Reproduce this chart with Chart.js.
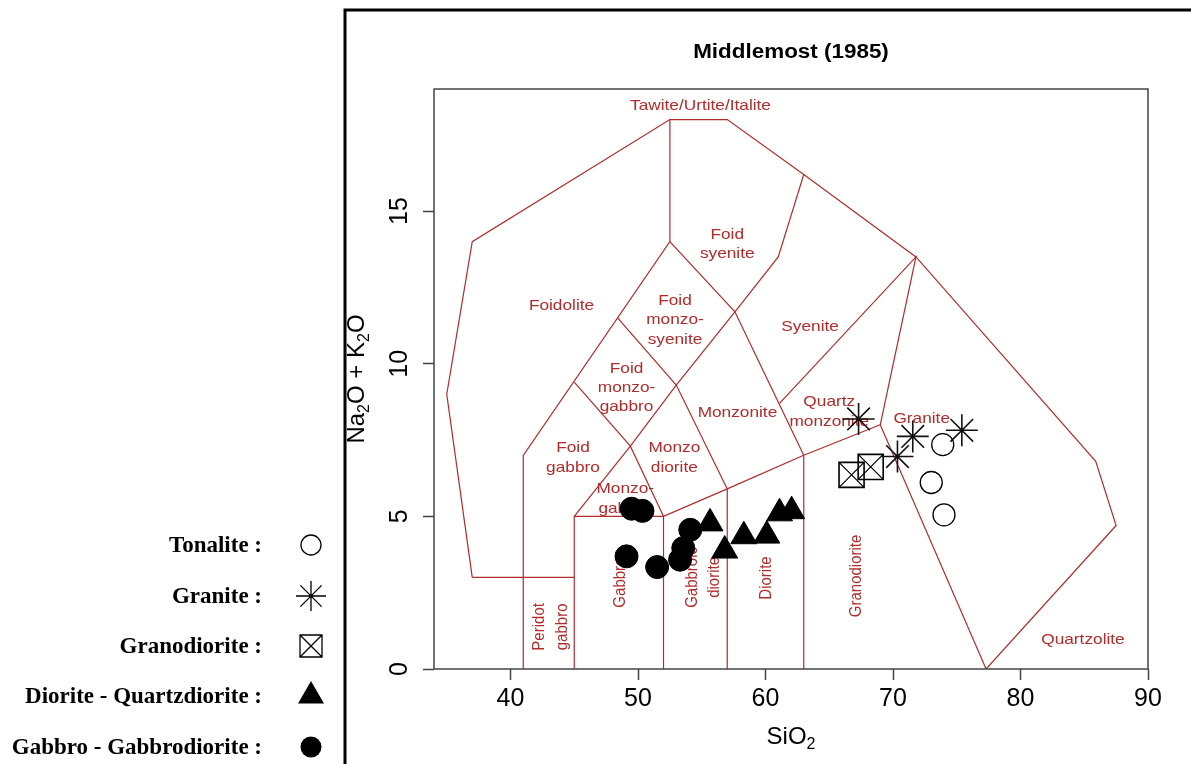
<!DOCTYPE html>
<html>
<head>
<meta charset="utf-8">
<script src="https://cdn.jsdelivr.net/npm/chart.js"></script>
<style>
  html, body { margin: 0; padding: 0; background: #fff; }
  #wrap { width: 1191px; height: 764px; }
</style>
</head>
<body>
<div id="wrap"><canvas id="tas" width="1191" height="764"></canvas></div>
<script>
// Axes
const xTicks = [40, 50, 60, 70, 80, 90];
const yTicks = [0, 5, 10, 15];

// Samples (SiO2, Na2O+K2O)
const tonaliteX = [73.9, 73.0, 74.0];
const tonaliteY = [7.35, 6.11, 5.05];
const graniteX = [67.3, 71.55, 70.35, 75.4];
const graniteY = [8.19, 7.62, 6.96, 7.82];
const granodioriteX = [66.75, 68.25];
const granodioriteY = [6.36, 6.62];
const dioriteX = [55.65, 56.8, 58.3, 60.1, 61.1, 62.05];
const dioriteY = [4.77, 3.88, 4.35, 4.37, 5.1, 5.17];
const gabbroX = [49.5, 50.35, 49.1, 51.5, 54.1, 53.55, 53.3];
const gabbroY = [5.25, 5.18, 3.69, 3.34, 4.56, 3.96, 3.58];

// Field boundaries of the Middlemost (1985) plutonic diagram
const fieldLines = [
  [[37, 3], [35, 9], [37, 14], [52.5, 18], [57, 18], [63, 16.2], [71.8, 13.5], [85.9, 6.8], [87.5, 4.7], [77.3, 0]],
  [[37, 3], [45, 3]],
  [[41, 0], [41, 7], [52.5, 14], [52.5, 18]],
  [[45, 0], [45, 5], [52, 5], [57, 5.9], [63, 7], [69, 8], [77.3, 0]],
  [[45, 9.4], [49.4, 7.3], [52, 5]],
  [[48.4, 11.5], [53, 9.3], [57, 5.9]],
  [[52.5, 14], [57.6, 11.7], [63, 7]],
  [[45, 5], [49.4, 7.3], [53, 9.3], [57.6, 11.7], [61, 13.5], [63, 16.2]],
  [[61.1, 8.7], [71.8, 13.5], [69, 8]],
  [[52, 0], [52, 5]],
  [[57, 0], [57, 5.9]],
  [[63, 0], [63, 7]]
];

// Field names
const fieldNames = ["Tawite/Urtite/Italite", "Foidolite", "Foid\nsyenite", "Foid\nmonzo-\nsyenite", "Syenite",
  "Foid\nmonzo-\ngabbro", "Monzonite", "Quartz\nmonzonite", "Granite", "Foid\ngabbro", "Monzo\ndiorite",
  "Monzo-\ngabbro", "Peridot\ngabbro", "Gabbro", "Gabbroic\ndiorite", "Diorite", "Granodiorite", "Quartzolite"];
const fieldX = [54.9, 44.0, 57.0, 52.9, 63.5, 49.1, 57.8, 65.0, 72.25, 44.9, 52.85, 49.0, 43.15, 48.6, 55.1, 60.05, 67.15, 84.9];
const fieldY = [18.45, 11.9, 13.9, 11.43, 11.2, 9.21, 8.4, 8.42, 8.19, 6.92, 6.92, 5.57, 1.38, 2.83, 3.0, 2.98, 3.05, 0.94];
const fieldVertical = [false, false, false, false, false, false, false, false, false, false, false, false, true, true, true, true, true, false];

// Legend
const legendNames = ["Tonalite :", "Granite :", "Granodiorite :", "Diorite - Quartzdiorite :", "Gabbro - Gabbrodiorite :"];
const legendSymbols = ["circle", "star", "boxX", "triangle", "dot"];

const RED = "#b22c2c";
const STRETCH = 1.15;
const SANS = "'Liberation Sans', Arial, sans-serif";

function toPoints(xs, ys) {
  return xs.map((x, i) => ({ x: x, y: ys[i] }));
}

function drawText(ctx, text, x, y, font, color, vertical, align, baseline) {
  ctx.save();
  ctx.translate(x, y);
  ctx.scale(STRETCH, 1);
  if (vertical) ctx.rotate(-Math.PI / 2);
  ctx.font = font;
  ctx.fillStyle = color;
  ctx.textAlign = align || "center";
  ctx.textBaseline = baseline || "middle";
  ctx.fillText(text, 0, 0);
  ctx.restore();
}

// text s dolnimi indexy (Na2O, SiO2)
function drawRich(ctx, parts, x, y, vertical) {
  const big = "24px " + SANS;
  const small = "16px " + SANS;
  ctx.save();
  ctx.translate(x, y);
  if (vertical) ctx.rotate(-Math.PI / 2);
  let total = 0;
  parts.forEach(p => { ctx.font = p.sub ? small : big; total += ctx.measureText(p.t).width; });
  let pos = -total / 2;
  ctx.fillStyle = "#000";
  ctx.textAlign = "left";
  ctx.textBaseline = "alphabetic";
  parts.forEach(p => {
    ctx.font = p.sub ? small : big;
    ctx.fillText(p.t, pos, p.sub ? 5 : 0);
    pos += ctx.measureText(p.t).width;
  });
  ctx.restore();
}

function drawSymbol(ctx, type, x, y) {
  ctx.save();
  ctx.strokeStyle = "#000";
  ctx.fillStyle = "#000";
  ctx.lineWidth = 1.3;
  ctx.beginPath();
  if (type === "circle") {
    ctx.arc(x, y, 10, 0, Math.PI * 2);
    ctx.stroke();
  } else if (type === "dot") {
    ctx.arc(x, y, 10.5, 0, Math.PI * 2);
    ctx.fill();
  } else if (type === "star") {
    for (let k = 0; k < 4; k++) {
      const a = k * Math.PI / 4;
      ctx.moveTo(x - Math.cos(a) * 15, y - Math.sin(a) * 15);
      ctx.lineTo(x + Math.cos(a) * 15, y + Math.sin(a) * 15);
    }
    ctx.stroke();
  } else if (type === "boxX") {
    ctx.rect(x - 11, y - 11, 22, 22);
    ctx.moveTo(x - 11, y - 11); ctx.lineTo(x + 11, y + 11);
    ctx.moveTo(x + 11, y - 11); ctx.lineTo(x - 11, y + 11);
    ctx.stroke();
  } else if (type === "triangle") {
    ctx.moveTo(x, y - 15);
    ctx.lineTo(x + 13, y + 7.5);
    ctx.lineTo(x - 13, y + 7.5);
    ctx.closePath();
    ctx.fill();
  }
  ctx.restore();
}

const decorPlugin = {
  id: "decor",
  beforeDatasetsDraw(chart) {
    const ctx = chart.ctx;
    const xs = chart.scales.x, ys = chart.scales.y;
    fieldNames.forEach((name, i) => {
      const px = xs.getPixelForValue(fieldX[i]);
      const py = ys.getPixelForValue(fieldY[i]);
      const lines = name.split("\n");
      lines.forEach((line, j) => {
        const off = (j - (lines.length - 1) / 2);
        if (fieldVertical[i]) {
          drawText(ctx, line, px + off * 19.3 * STRETCH, py, "15px " + SANS, RED, true);
        } else {
          drawText(ctx, line, px, py + off * 19.3, "15px " + SANS, RED, false);
        }
      });
    });
  },
  afterDraw(chart) {
    const ctx = chart.ctx;
    const a = chart.chartArea;
    ctx.save();
    // ramecek grafu
    ctx.strokeStyle = "#444";
    ctx.lineWidth = 1.5;
    ctx.strokeRect(a.left, a.top, a.right - a.left, a.bottom - a.top);
    // vnejsi linka obrazku
    ctx.strokeStyle = "#000";
    ctx.lineWidth = 3;
    ctx.beginPath();
    ctx.moveTo(345, 764);
    ctx.lineTo(345, 10);
    ctx.lineTo(1191, 10);
    ctx.stroke();
    ctx.restore();

    drawText(ctx, "Middlemost (1985)", (a.left + a.right) / 2, 58, "bold 19.5px " + SANS, "#000", false, "center", "alphabetic");
    drawRich(ctx, [{ t: "SiO" }, { t: "2", sub: true }], (a.left + a.right) / 2, 744, false);
    drawRich(ctx, [{ t: "Na" }, { t: "2", sub: true }, { t: "O + K" }, { t: "2", sub: true }, { t: "O" }], 364, (a.top + a.bottom) / 2, true);

    // legenda vlevo
    const rowsY = [545, 596, 646, 696, 747];
    legendNames.forEach((name, i) => {
      ctx.save();
      ctx.font = "bold 23px 'Liberation Serif', 'Times New Roman', serif";
      ctx.fillStyle = "#000";
      ctx.textAlign = "right";
      ctx.textBaseline = "middle";
      ctx.fillText(name, 262, rowsY[i] + 1);
      ctx.restore();
      drawSymbol(ctx, legendSymbols[i], 311, rowsY[i]);
    });
  }
};

const lineSets = fieldLines.map(line => ({
  data: line.map(p => ({ x: p[0], y: p[1] })),
  showLine: true,
  borderColor: RED,
  borderWidth: 1.2,
  pointRadius: 0,
  fill: false,
  order: 10
}));

const pointSets = [
  { label: "Tonalite", data: toPoints(tonaliteX, tonaliteY), pointStyle: "circle", pointRadius: 11,
    borderColor: "#000", backgroundColor: "rgba(0,0,0,0)", borderWidth: 1.3 },
  { label: "Granite", data: toPoints(graniteX, graniteY), pointStyle: "star", pointRadius: 16,
    borderColor: "#111", backgroundColor: "#000", borderWidth: 1.6 },
  { label: "Granodiorite", data: toPoints(granodioriteX, granodioriteY), pointStyle: "rect", pointRadius: 17.7,
    borderColor: "#000", backgroundColor: "rgba(0,0,0,0)", borderWidth: 1.6 },
  { label: "Granodiorite X", data: toPoints(granodioriteX, granodioriteY), pointStyle: "crossRot", pointRadius: 17.7,
    borderColor: "#000", backgroundColor: "#000", borderWidth: 1.2 },
  { label: "Diorite - Quartzdiorite", data: toPoints(dioriteX, dioriteY), pointStyle: "triangle", pointRadius: 15,
    borderColor: "#000", backgroundColor: "#000", borderWidth: 1 },
  { label: "Gabbro - Gabbrodiorite", data: toPoints(gabbroX, gabbroY), pointStyle: "circle", pointRadius: 11.5,
    borderColor: "#000", backgroundColor: "#000", borderWidth: 1 }
].map(d => Object.assign(d, { showLine: false, order: 0, clip: false }));

const ctx = document.getElementById("tas").getContext("2d");
new Chart(ctx, {
  type: "scatter",
  data: { datasets: pointSets.concat(lineSets) },
  options: {
    responsive: false,
    animation: false,
    events: [],
    layout: { padding: { left: 0, top: 89, right: 43, bottom: 0 } },
    plugins: { legend: { display: false }, tooltip: { enabled: false }, title: { display: false } },
    scales: {
      x: {
        type: "linear",
        position: "bottom",
        min: 34,
        max: 90,
        afterBuildTicks: s => { s.ticks = xTicks.map(v => ({ value: v })); },
        afterFit: s => { s.height = 95; },
        grid: { drawOnChartArea: false, drawTicks: true, tickLength: 11, tickColor: "#444", tickWidth: 1.5 },
        border: { display: false },
        ticks: { color: "#000", padding: 4, maxRotation: 0, font: { family: SANS, size: 25 } }
      },
      y: {
        type: "linear",
        position: "left",
        min: 0,
        max: 19,
        afterBuildTicks: s => { s.ticks = yTicks.map(v => ({ value: v })); },
        afterFit: s => { s.width = 434; },
        grid: { drawOnChartArea: false, drawTicks: true, tickLength: 11, tickColor: "#444", tickWidth: 1.5 },
        border: { display: false },
        ticks: { color: "#000", padding: 9, minRotation: 90, maxRotation: 90, crossAlign: "center",
          font: { family: SANS, size: 25 } }
      }
    }
  },
  plugins: [decorPlugin]
});
</script>
</body>
</html>
